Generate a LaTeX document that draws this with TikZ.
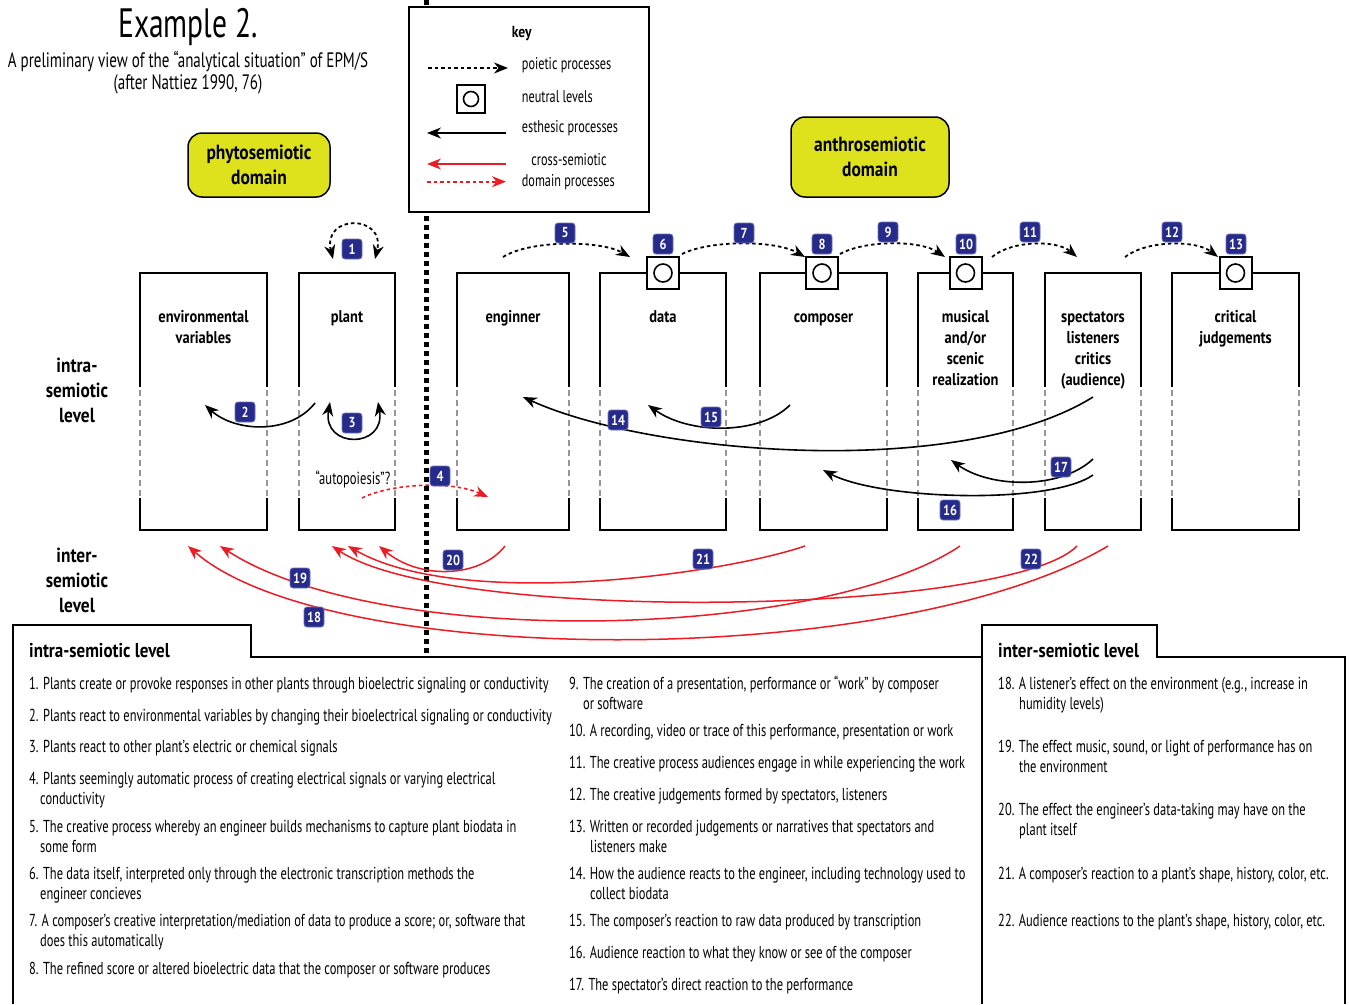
\documentclass[tikz,border=0pt]{standalone}
\usepackage{fontspec}
\setmainfont{PT Sans}[UprightFeatures={FakeStretch=0.72},BoldFeatures={FakeStretch=0.85}]
\usetikzlibrary{arrows.meta}
\definecolor{badgeblue}{RGB}{38,42,138}
\definecolor{badgeedge}{RGB}{110,115,185}
\definecolor{domyellow}{RGB}{221,226,28}
\definecolor{crossred}{RGB}{236,28,36}
\definecolor{dashgray}{RGB}{150,150,150}
\newcommand{\myfs}[2]{\fontsize{#1}{#2}\selectfont}
\begin{document}
\begin{tikzpicture}[x=1pt,y=-1pt,
  every node/.style={inner sep=0pt},
  tipa/.tip={Stealth[length=14pt,width=11pt,inset=4.5pt]},
  esth/.style={draw=black,line width=1.6pt,-tipa},
  esthboth/.style={draw=black,line width=1.6pt,tipa-tipa},
  poi/.style={draw=black,line width=1.8pt,dash pattern=on 3.5pt off 3pt,-tipa},
  poiboth/.style={draw=black,line width=1.8pt,dash pattern=on 3.5pt off 3pt,tipa-tipa},
  xsol/.style={draw=crossred,line width=1.5pt,-{Stealth[length=14pt,width=11pt,inset=4.5pt,fill=crossred]}},
  xdash/.style={draw=crossred,line width=1.6pt,dash pattern=on 3.5pt off 3pt,-{Stealth[length=14pt,width=11pt,inset=4.5pt,fill=crossred]}},
  badge/.style={fill=badgeblue,draw=badgeedge,line width=0.8pt,rounded corners=3pt,text=white,font=\bfseries\myfs{14.5}{14.5},minimum width=20pt,minimum height=20pt,inner sep=2pt},
  neutral/.style={draw,fill=white,line width=2pt,minimum size=32pt,path picture={\draw[line width=1.6pt] (path picture bounding box.center) circle (9pt);}},
  domainbox/.style={draw,line width=1.5pt,fill=domyellow,rounded corners=14pt,align=center,font=\bfseries\myfs{20.5}{25}},
  collab/.style={align=center,anchor=north,font=\bfseries\myfs{17}{21}},
  sidelab/.style={align=center,font=\bfseries\myfs{20.4}{25}},
  itemtxt/.style={align=left,anchor=north west,font=\myfs{17.3}{20.5}},
  keytxt/.style={anchor=west,font=\myfs{17}{17}},
  solidside/.style={line width=2pt},
  dashside/.style={line width=1.3pt,draw=dashgray,dash pattern=on 6pt off 4pt},
  panel/.style={line width=2.5pt},
  ptitle/.style={anchor=west,font=\bfseries\myfs{20}{22}}
]
\useasboundingbox (0,0) rectangle (1349,1004);
\fill[white] (0,0) rectangle (1349,1004);

% title
\node[anchor=base,font=\myfs{41}{42}] (title) at (188,37) {Example 2.};
\node[anchor=north,align=center,font=\myfs{20.9}{22}] (subtitle) at (188,50.6) {A preliminary view of the “analytical situation” of EPM/S\\(after Nattiez 1990, 76)};

% domain boxes
\node[domainbox,minimum width=142pt,minimum height=64pt] (phyto) at (259,165) {phytosemiotic\\domain};
\node[domainbox,minimum width=158pt,minimum height=80pt] (anthro) at (870,157) {anthrosemiotic\\domain};

% divider
\coordinate (divtop) at (426,0);
\coordinate (divbot) at (426,657);
\draw[line width=5pt,dash pattern=on 5pt off 4pt] (divtop) -- (divbot);

% key
\node[draw,fill=white,line width=2.5pt,minimum width=240pt,minimum height=205pt] (key) at (529,109.4) {};
\node[font=\bfseries\myfs{16}{17}] (keytitle) at (521.7,33.3) {key};
\coordinate (k1a) at (428,68); \coordinate (k1b) at (508,68);
\draw[poi] (k1a) -- (k1b);
\node[keytxt] (k1t) at (521.7,65) {poietic processes};
\node[draw,fill=white,line width=2pt,minimum size=28pt,path picture={\draw[line width=1.6pt] (path picture bounding box.center) circle (7.5pt);}] (k2) at (471,99) {};
\node[keytxt] (k2t) at (521.7,96.7) {neutral levels};
\coordinate (k3a) at (506,133); \coordinate (k3b) at (427,133);
\draw[esth] (k3a) -- (k3b);
\node[keytxt] (k3t) at (521.7,128) {esthesic processes};
\coordinate (k4a) at (506,164); \coordinate (k4b) at (427,164);
\draw[xsol] (k4a) -- (k4b);
\coordinate (k5a) at (427,181.7); \coordinate (k5b) at (506,181.7);
\draw[xdash] (k5a) -- (k5b);
\node[font=\myfs{17}{17}] (k4t) at (569,160) {cross-semiotic};
\node[keytxt] (k5t) at (521.7,181.7) {domain processes};

% columns
\foreach \n/\l/\r in {env/140/267,plant/299/395,eng/457/569,data/600/726,comp/760/887,mus/918/1013,spec/1045/1141,crit/1172/1299}{
  \node[minimum width={(\r-\l)*1pt},minimum height=257pt] (\n) at ({(\l+\r)/2},401.5) {};
  \draw[solidside] (\l,387) -- (\l,273) -- (\r,273) -- (\r,387);
  \draw[solidside] (\l,498) -- (\l,530) -- (\r,530) -- (\r,498);
  \draw[dashside] (\l,390) -- (\l,497);
  \draw[dashside] (\r,390) -- (\r,497);
}
\node[collab] (envl) at (203.5,307.3) {\strut environmental\\variables};
\node[collab] (plantl) at (347,307.3) {\strut plant};
\node[collab] (engl) at (513,307.3) {\strut enginner};
\node[collab] (datal) at (663,307.3) {\strut data};
\node[collab] (compl) at (823.5,307.3) {\strut composer};
\node[collab] (musl) at (965.5,307.3) {\strut musical\\and/or\\scenic\\realization};
\node[collab] (specl) at (1093,307.3) {\strut spectators\\listeners\\critics\\(audience)};
\node[collab] (critl) at (1235.5,307.3) {\strut critical\\judgements};

% neutral levels
\node[neutral] (n6) at (663,273) {};
\node[neutral] (n8) at (822,273) {};
\node[neutral] (n10) at (965.5,273) {};
\node[neutral] (n13) at (1235.5,273) {};

% side labels
\node[sidelab] (intra) at (77,390) {intra-\\semiotic\\level};
\node[sidelab] (inter) at (77,580) {inter-\\semiotic\\level};

% poietic arrows
\coordinate (a1s) at (333,259); \coordinate (a1e) at (375,259);
\draw[poiboth] (a1s) .. controls (322,214) and (386,214) .. (a1e);
\coordinate (a5s) at (503,257); \coordinate (a5e) at (630,257);
\draw[poi] (a5s) .. controls (530,240) and (600,240) .. (a5e);
\coordinate (a7s) at (682,254); \coordinate (a7e) at (805,257);
\draw[poi] (a7s) .. controls (710,240) and (775,240) .. (a7e);
\coordinate (a9s) at (840,254); \coordinate (a9e) at (945,257);
\draw[poi] (a9s) .. controls (865,240) and (920,240) .. (a9e);
\coordinate (a11s) at (992,257); \coordinate (a11e) at (1077,257);
\draw[poi] (a11s) .. controls (1012,240) and (1057,240) .. (a11e);
\coordinate (a12s) at (1125,257); \coordinate (a12e) at (1218,257);
\draw[poi] (a12s) .. controls (1147,240) and (1196,240) .. (a12e);

% esthesic arrows
\coordinate (a2s) at (315,403); \coordinate (a2e) at (205,405);
\draw[esth] (a2s) .. controls (290,435) and (235,432) .. (a2e);
\coordinate (a3s) at (330,402); \coordinate (a3e) at (378,402);
\draw[esthboth] (a3s) .. controls (322,449) and (386,449) .. (a3e);
\coordinate (a14s) at (1093,397); \coordinate (a14e) at (523,397);
\draw[esth] (a14s) .. controls (960,480) and (650,455) .. (a14e);
\coordinate (a15s) at (790,405); \coordinate (a15e) at (648,405);
\draw[esth] (a15s) .. controls (760,435) and (690,435) .. (a15e);
\coordinate (a16s) at (1093,475); \coordinate (a16e) at (823,470);
\draw[esth] (a16s) .. controls (1050,505) and (880,500) .. (a16e);
\coordinate (a17s) at (1093,459); \coordinate (a17e) at (951,460);
\draw[esth] (a17s) .. controls (1060,490) and (990,488) .. (a17e);

% autopoiesis
\node[font=\myfs{17.5}{18}] (autop) at (353,479) {“autopoiesis”?};
\coordinate (a4s) at (362,498); \coordinate (a4e) at (488,497);
\draw[xdash] (a4s) .. controls (390,484) and (450,480) .. (a4e);

% cross-semiotic arrows
\coordinate (a18s) at (1108,546); \coordinate (a18e) at (188,546);
\draw[xsol] (a18s) .. controls (900,670) and (330,670) .. (a18e);
\coordinate (a19s) at (960,546); \coordinate (a19e) at (220,546);
\draw[xsol] (a19s) .. controls (820,640) and (380,650) .. (a19e);
\coordinate (a20s) at (505,546); \coordinate (a20e) at (379,546);
\draw[xsol] (a20s) .. controls (480,578) and (420,580) .. (a20e);
\coordinate (a21s) at (805,546); \coordinate (a21e) at (348,546);
\draw[xsol] (a21s) .. controls (720,575) and (460,610) .. (a21e);
\coordinate (a22s) at (1077,546); \coordinate (a22e) at (332,546);
\draw[xsol] (a22s) .. controls (1010,615) and (450,625) .. (a22e);

% badges
\node[badge] (b1) at (352,249) {1};
\node[badge] (b2) at (245,412) {2};
\node[badge] (b3) at (352,423) {3};
\node[badge] (b4) at (440,476) {4};
\node[badge] (b5) at (565,233) {5};
\node[badge] (b6) at (663,244) {6};
\node[badge] (b7) at (744,233) {7};
\node[badge] (b8) at (822,244) {8};
\node[badge] (b9) at (888,232) {9};
\node[badge] (b10) at (966,244) {10};
\node[badge] (b11) at (1030,232) {11};
\node[badge] (b12) at (1172,232) {12};
\node[badge] (b13) at (1236,244) {13};
\node[badge] (b14) at (618,420) {14};
\node[badge] (b15) at (711,417) {15};
\node[badge] (b16) at (950,510) {16};
\node[badge] (b17) at (1061,467) {17};
\node[badge] (b18) at (314,617) {18};
\node[badge] (b19) at (300,578) {19};
\node[badge] (b20) at (453,560) {20};
\node[badge] (b21) at (703,559) {21};
\node[badge] (b22) at (1031,559) {22};

% bottom panel
\draw[panel] (13,1004) -- (13,625) -- (251,625) -- (251,657) -- (982,657);
\draw[panel] (982,1004) -- (982,625) -- (1157,625) -- (1157,657) -- (1345,657) -- (1345,1004);
\node[ptitle] (intrat) at (29,651) {intra-semiotic level};
\node[ptitle] (intert) at (998,651) {inter-semiotic level};

% left column
\node[itemtxt] (t1) at (29,674.6) {\strut 1. Plants create or provoke responses in other plants through bioelectric signaling or conductivity};
\node[itemtxt] (t2) at (29,706.6) {\strut 2. Plants react to environmental variables by changing their bioelectrical signaling or conductivity};
\node[itemtxt] (t3) at (29,737.6) {\strut 3. Plants react to other plant’s electric or chemical signals};
\node[itemtxt] (t4) at (29,769.6) {\strut 4. Plants seemingly automatic process of creating electrical signals or varying electrical\\\hspace*{11pt}conductivity};
\node[itemtxt] (t5) at (29,817.6) {\strut 5. The creative process whereby an engineer builds mechanisms to capture plant biodata in\\\hspace*{11pt}some form};
\node[itemtxt] (t6) at (29,864.6) {\strut 6. The data itself, interpreted only through the electronic transcription methods the\\\hspace*{11pt}engineer concieves};
\node[itemtxt] (t7) at (29,911.6) {\strut 7. A composer’s creative interpretation/mediation of data to produce a score; or, software that\\\hspace*{11pt}does this automatically};
\node[itemtxt] (t8) at (29,959.6) {\strut 8. The refined score or altered bioelectric data that the composer or software produces};

% middle column
\node[itemtxt] (t9) at (569,674.6) {\strut 9. The creation of a presentation, performance or “work” by composer\\\hspace*{14pt}or software};
\node[itemtxt] (t10) at (569,721.6) {\strut 10. A recording, video or trace of this performance, presentation or work};
\node[itemtxt] (t11) at (569,753.6) {\strut 11. The creative process audiences engage in while experiencing the work};
\node[itemtxt] (t12) at (569,785.6) {\strut 12. The creative judgements formed by spectators, listeners};
\node[itemtxt] (t13) at (569,817.6) {\strut 13. Written or recorded judgements or narratives that spectators and\\\hspace*{21pt}listeners make};
\node[itemtxt] (t14) at (569,864.6) {\strut 14. How the audience reacts to the engineer, including technology used to\\\hspace*{21pt}collect biodata};
\node[itemtxt] (t15) at (569,911.6) {\strut 15. The composer’s reaction to raw data produced by transcription};
\node[itemtxt] (t16) at (569,943.6) {\strut 16. Audience reaction to what they know or see of the composer};
\node[itemtxt] (t17) at (569,975.6) {\strut 17. The spectator’s direct reaction to the performance};

% right column
\node[itemtxt] (t18) at (998,674.6) {\strut 18. A listener’s effect on the environment (e.g., increase in\\\hspace*{21pt}humidity levels)};
\node[itemtxt] (t19) at (998,737.6) {\strut 19. The effect music, sound, or light of performance has on\\\hspace*{21pt}the environment};
\node[itemtxt] (t20) at (998,800.6) {\strut 20. The effect the engineer’s data-taking may have on the\\\hspace*{21pt}plant itself};
\node[itemtxt] (t21) at (998,864.6) {\strut 21. A composer’s reaction to a plant’s shape, history, color, etc.};
\node[itemtxt] (t22) at (998,911.6) {\strut 22. Audience reactions to the plant’s shape, history, color, etc.};
\end{tikzpicture}
\end{document}
